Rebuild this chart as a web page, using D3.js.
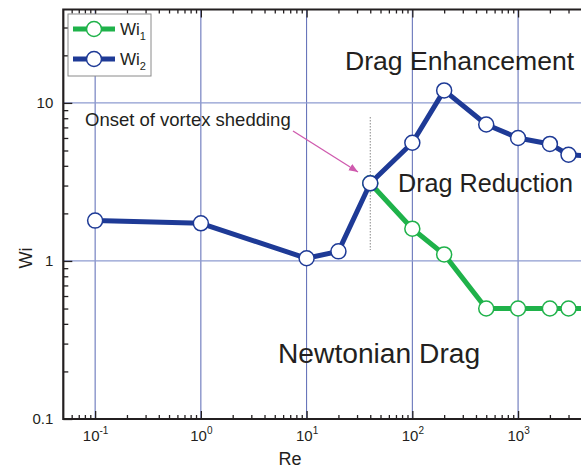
<!DOCTYPE html>
<html>
<head>
<meta charset="utf-8">
<script src="https://cdn.jsdelivr.net/npm/d3@7"></script>
<style>
  body { margin: 0; background: #fff; }
  svg { display: block; font-family: "Liberation Sans", Arial, sans-serif; }
</style>
</head>
<body>
<div id="chart"></div>
<script>
// data
let re1 = [40, 100, 200, 500, 1000, 2000, 3000, 5000]
let wi1 = [3.1, 1.6, 1.1, 0.5, 0.5, 0.5, 0.5, 0.5]
let re2 = [0.1, 1, 10, 20, 40, 100, 200, 500, 1000, 2000, 3000, 5000]
let wi2 = [1.8, 1.73, 1.04, 1.15, 3.1, 5.6, 12, 7.3, 6.0, 5.5, 4.7, 4.6]
let xMajor = [0.1, 1, 10, 100, 1000, 10000]
let xLabelled = [0.1, 1, 10, 100, 1000]
let yMajor = [0.1, 1, 10]
let yLabels = ["0.1", "1", "10"]

let width = 581, height = 470
let pLeft = 63.3, pRight = 623.8, pTop = 9.5, pBottom = 419

let svg = d3.select("#chart")
  .append("svg")
  .attr("width", width)
  .attr("height", height)

let x = d3.scaleLog().domain([0.05, 10000]).range([pLeft, pRight])
let y = d3.scaleLog().domain([0.1, 39]).range([pBottom, pTop])

// minor tick values (2..9 in every decade)
function minors(lo, hi) {
  let out = []
  for (let e = -2; e <= 4; e++) {
    for (let k = 2; k <= 9; k++) {
      let v = k * Math.pow(10, e)
      if (v > lo && v < hi) out.push(v)
    }
  }
  return out
}

// grid
svg.append("g").selectAll("line")
  .data(xMajor.filter(d => d < 10000))
  .enter().append("line")
  .attr("x1", d => x(d)).attr("x2", d => x(d))
  .attr("y1", pTop).attr("y2", pBottom)
  .attr("stroke", "#5a68b4").attr("stroke-width", 1)
svg.append("g").selectAll("line")
  .data([1, 10])
  .enter().append("line")
  .attr("x1", pLeft).attr("x2", pRight)
  .attr("y1", d => y(d)).attr("y2", d => y(d))
  .attr("stroke", "#8e9bd0").attr("stroke-width", 1.2)

// axes, ticks pointing inward
let frame = "#231f20"
function styleAxis(g) {
  g.select(".domain").remove()
  g.selectAll(".tick line").attr("stroke", frame).attr("stroke-width", 1.3)
}

svg.append("g").attr("transform", `translate(0,${pBottom})`)
  .call(d3.axisBottom(x).tickValues(minors(0.05, 10000)).tickSizeInner(-4).tickFormat(""))
  .call(styleAxis)
svg.append("g").attr("transform", `translate(0,${pBottom})`)
  .call(d3.axisBottom(x).tickValues(xMajor).tickSizeInner(-8).tickFormat(""))
  .call(styleAxis)
let xb = svg.append("g").attr("transform", `translate(0,${pBottom})`)
  .call(d3.axisBottom(x).tickValues(xLabelled).tickSizeInner(0).tickPadding(11).tickFormat(""))
  .call(styleAxis)
xb.selectAll(".tick text").each(function(d) {
  let t = d3.select(this)
    .attr("fill", frame).attr("font-size", 15).attr("dy", "0.75em")
  t.append("tspan").text("10")
  t.append("tspan").text(Math.round(Math.log10(d)))
    .attr("font-size", 10).attr("dy", "-0.75em")
})

svg.append("g").attr("transform", `translate(0,${pTop})`)
  .call(d3.axisTop(x).tickValues(minors(0.05, 10000)).tickSizeInner(-4).tickFormat(""))
  .call(styleAxis)
svg.append("g").attr("transform", `translate(0,${pTop})`)
  .call(d3.axisTop(x).tickValues(xMajor).tickSizeInner(-8).tickFormat(""))
  .call(styleAxis)

svg.append("g").attr("transform", `translate(${pLeft},0)`)
  .call(d3.axisLeft(y).tickValues(minors(0.1, 39)).tickSizeInner(-5).tickFormat(""))
  .call(styleAxis)
svg.append("g").attr("transform", `translate(${pLeft},0)`)
  .call(d3.axisLeft(y).tickValues(yMajor).tickSizeInner(-9).tickPadding(10)
    .tickFormat((d, i) => yLabels[i]))
  .call(styleAxis)
  .selectAll(".tick text").attr("fill", frame).attr("font-size", 15)
  .attr("font-family", "Liberation Sans, Arial, sans-serif")

// frame lines
svg.append("path")
  .attr("d", `M${pRight},${pTop}H${pLeft}V${pBottom}H${pRight}`)
  .attr("fill", "none").attr("stroke", frame).attr("stroke-width", 2.2)

// axis titles
svg.append("text").attr("x", 290).attr("y", 465)
  .attr("text-anchor", "middle").attr("font-size", 18).attr("fill", frame).text("Re")
svg.append("text").attr("transform", "translate(32,258) rotate(-90)")
  .attr("text-anchor", "middle").attr("font-size", 18).attr("fill", frame).text("Wi")

// vortex shedding marker line
svg.append("line")
  .attr("x1", x(40)).attr("x2", x(40)).attr("y1", 117).attr("y2", 250)
  .attr("stroke", "#888").attr("stroke-width", 1).attr("stroke-dasharray", "1.5,1.5")

// series
let green = "#1fb24a", blue = "#1e3a96"
function drawSeries(xs, ys, color) {
  let pts = xs.map((v, i) => [x(v), y(ys[i])])
  svg.append("path")
    .attr("d", d3.line()(pts))
    .attr("fill", "none").attr("stroke", color).attr("stroke-width", 5)
    .attr("stroke-linejoin", "round")
  svg.append("g").selectAll("circle")
    .data(pts)
    .enter().append("circle")
    .attr("cx", d => d[0]).attr("cy", d => d[1]).attr("r", 7.5)
    .attr("fill", "#fff").attr("stroke", color).attr("stroke-width", 1.5)
}
drawSeries(re1, wi1, green)
drawSeries(re2, wi2, blue)

// annotations
let ink = "#231f20"
svg.append("text").attr("x", 85).attr("y", 126).attr("font-size", 18.5)
  .attr("fill", ink).text("Onset of vortex shedding")
let pink = "#cf5aae"
svg.append("defs").append("marker")
  .attr("id", "arr").attr("viewBox", "0 0 10 10").attr("refX", 10).attr("refY", 5)
  .attr("markerWidth", 7).attr("markerHeight", 7).attr("orient", "auto")
  .append("path").attr("d", "M0,1L10,5L0,9Z").attr("fill", pink)
svg.append("line")
  .attr("x1", 293).attr("y1", 131).attr("x2", 358).attr("y2", 172)
  .attr("stroke", pink).attr("stroke-width", 1.3).attr("marker-end", "url(#arr)")

svg.append("text").attr("x", 345).attr("y", 70).attr("font-size", 26.6)
  .attr("fill", ink).text("Drag Enhancement")
svg.append("text").attr("x", 398).attr("y", 192).attr("font-size", 25.2)
  .attr("fill", ink).text("Drag Reduction")
svg.append("text").attr("x", 278).attr("y", 363).attr("font-size", 28.2)
  .attr("fill", ink).text("Newtonian Drag")

// legend
let leg = svg.append("g")
leg.append("rect").attr("x", 68).attr("y", 14).attr("width", 83).attr("height", 62)
  .attr("fill", "#fff").attr("stroke", "#8a8a8a").attr("stroke-width", 1)
let legItems = [{name: "1", color: green, cy: 29}, {name: "2", color: blue, cy: 59}]
legItems.forEach(function(d) {
  leg.append("line").attr("x1", 73).attr("x2", 115).attr("y1", d.cy).attr("y2", d.cy)
    .attr("stroke", d.color).attr("stroke-width", 5)
  leg.append("circle").attr("cx", 94).attr("cy", d.cy).attr("r", 7.5)
    .attr("fill", "#fff").attr("stroke", d.color).attr("stroke-width", 1.5)
  let t = leg.append("text").attr("x", 120).attr("y", d.cy + 6)
    .attr("font-size", 17).attr("fill", ink)
  t.append("tspan").text("Wi")
  t.append("tspan").text(d.name).attr("font-size", 11).attr("dy", 5)
})
</script>
</body>
</html>
